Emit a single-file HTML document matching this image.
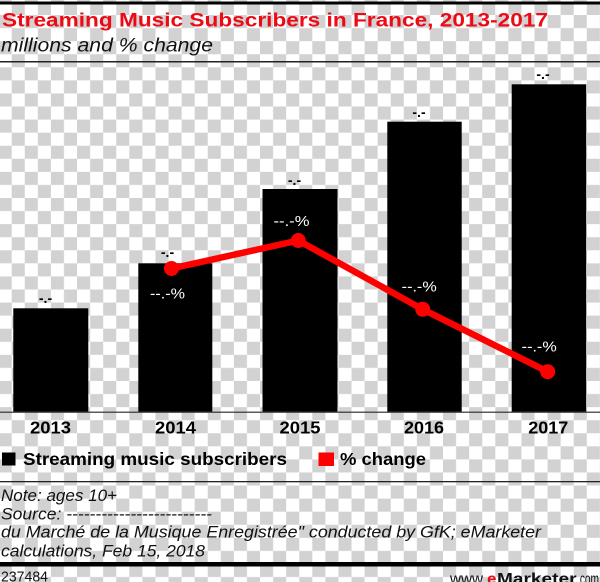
<!DOCTYPE html>
<html>
<head>
<meta charset="utf-8">
<style>
  html, body { margin: 0; padding: 0; background: #fff; }
  body { width: 600px; height: 582px; overflow: hidden; }
  svg { display: block; }
  text { font-family: "Liberation Sans", "DejaVu Sans", sans-serif; }
</style>
</head>
<body>
<svg width="600" height="582" viewBox="0 0 600 582" xmlns="http://www.w3.org/2000/svg">
  <defs>
    <pattern id="chk" patternUnits="userSpaceOnUse" x="-1.37" y="67.3" width="26.14" height="26.14">
      <rect x="0" y="0" width="26.14" height="26.14" fill="#ffffff"/>
      <rect x="0" y="0" width="13.07" height="13.07" fill="#d2d2d2"/>
      <rect x="13.07" y="13.07" width="13.07" height="13.07" fill="#d2d2d2"/>
    </pattern>
  </defs>
  <rect x="0" y="0" width="600" height="582" fill="url(#chk)"/>

  <!-- top rule -->
  <rect x="0" y="1.5" width="600" height="3" fill="#000"/>

  <!-- title -->
  <text x="2" y="26.7" font-size="19.5" font-weight="bold" fill="#ee0a14" textLength="546" lengthAdjust="spacingAndGlyphs">Streaming Music Subscribers in France, 2013-2017</text>
  <text x="1" y="51.7" font-size="19" font-style="italic" fill="#111" textLength="212" lengthAdjust="spacingAndGlyphs">millions and % change</text>
  <rect x="0" y="61" width="600" height="1.5" fill="#222"/>

  <!-- bars -->
  <rect x="13.3" y="308.3" width="75" height="103.5" fill="#000"/>
  <rect x="138.3" y="263.3" width="74" height="148.5" fill="#000"/>
  <rect x="262.5" y="189" width="75" height="222.8" fill="#000"/>
  <rect x="387.3" y="121.7" width="74.4" height="290.1" fill="#000"/>
  <rect x="511.7" y="84.3" width="74.5" height="327.5" fill="#000"/>

  <!-- axis line -->
  <rect x="0" y="411.6" width="600" height="1.2" fill="#333"/>

  <!-- value labels -->
  <g font-size="14" font-weight="bold" fill="#000" text-anchor="middle">
    <text x="45.5" y="303">-.-</text>
    <text x="167.5" y="257">-.-</text>
    <text x="294.5" y="185">-.-</text>
    <text x="419" y="117">-.-</text>
    <text x="543" y="79">-.-</text>
  </g>

  <!-- % change line -->
  <polyline points="171.5,268.5 298.3,240.5 422.7,309.3 547.7,371.7" fill="none" stroke="#ff0000" stroke-width="6.5" stroke-linejoin="round"/>
  <circle cx="171.5" cy="268.5" r="7.5" fill="#ff0000"/>
  <circle cx="298.3" cy="240.5" r="7.5" fill="#ff0000"/>
  <circle cx="422.7" cy="309.3" r="7.5" fill="#ff0000"/>
  <circle cx="547.7" cy="371.7" r="7.5" fill="#ff0000"/>

  <!-- % labels -->
  <g font-size="15" fill="#fff">
    <text x="150" y="298.5" textLength="35" lengthAdjust="spacingAndGlyphs">--.-%</text>
    <text x="273.5" y="226" textLength="36" lengthAdjust="spacingAndGlyphs">--.-%</text>
    <text x="401.7" y="291.7" textLength="35" lengthAdjust="spacingAndGlyphs">--.-%</text>
    <text x="521.7" y="351.3" textLength="35" lengthAdjust="spacingAndGlyphs">--.-%</text>
  </g>

  <!-- year labels -->
  <g font-size="17.5" font-weight="bold" fill="#000">
    <text x="30" y="433.3" textLength="41" lengthAdjust="spacingAndGlyphs">2013</text>
    <text x="155" y="433.3" textLength="41" lengthAdjust="spacingAndGlyphs">2014</text>
    <text x="279.5" y="433.3" textLength="41" lengthAdjust="spacingAndGlyphs">2015</text>
    <text x="404" y="433.3" textLength="40" lengthAdjust="spacingAndGlyphs">2016</text>
    <text x="528.3" y="433.3" textLength="40" lengthAdjust="spacingAndGlyphs">2017</text>
  </g>

  <!-- legend -->
  <rect x="2" y="452.5" width="13.5" height="13" fill="#000"/>
  <text x="23" y="465" font-size="17.5" font-weight="bold" fill="#000" textLength="264" lengthAdjust="spacingAndGlyphs">Streaming music subscribers</text>
  <rect x="318.5" y="452.5" width="15.5" height="13.5" fill="#ff0000"/>
  <text x="340" y="465" font-size="17.5" font-weight="bold" fill="#000" textLength="86" lengthAdjust="spacingAndGlyphs">% change</text>

  <rect x="0" y="481" width="600" height="1.3" fill="#222"/>

  <!-- notes -->
  <g font-size="16.5" font-style="italic" fill="#111">
    <text x="1" y="501" textLength="116" lengthAdjust="spacingAndGlyphs">Note: ages 10+</text>
    <text x="1" y="519.3" textLength="211" lengthAdjust="spacingAndGlyphs">Source: -------------------------</text>
    <text x="1" y="537.7" textLength="540" lengthAdjust="spacingAndGlyphs">du Marché de la Musique Enregistrée" conducted by GfK; eMarketer</text>
    <text x="1" y="556.7" textLength="204" lengthAdjust="spacingAndGlyphs">calculations, Feb 15, 2018</text>
  </g>

  <!-- bottom rule -->
  <rect x="0" y="562" width="600" height="4.5" fill="#000"/>

  <text x="1" y="581.5" font-size="14.5" fill="#111" textLength="47" lengthAdjust="spacingAndGlyphs">237484</text>
  <g font-size="16" fill="#111">
    <text x="450" y="584" textLength="36.5" lengthAdjust="spacingAndGlyphs">www.</text>
    <text x="487" y="584" font-weight="bold" fill="#ee0a14" textLength="9.5" lengthAdjust="spacingAndGlyphs">e</text>
    <text x="497" y="584" font-weight="bold" fill="#111" textLength="79.5" lengthAdjust="spacingAndGlyphs">Marketer</text>
    <text x="577" y="584" textLength="22" lengthAdjust="spacingAndGlyphs">.com</text>
  </g>
</svg>
</body>
</html>
